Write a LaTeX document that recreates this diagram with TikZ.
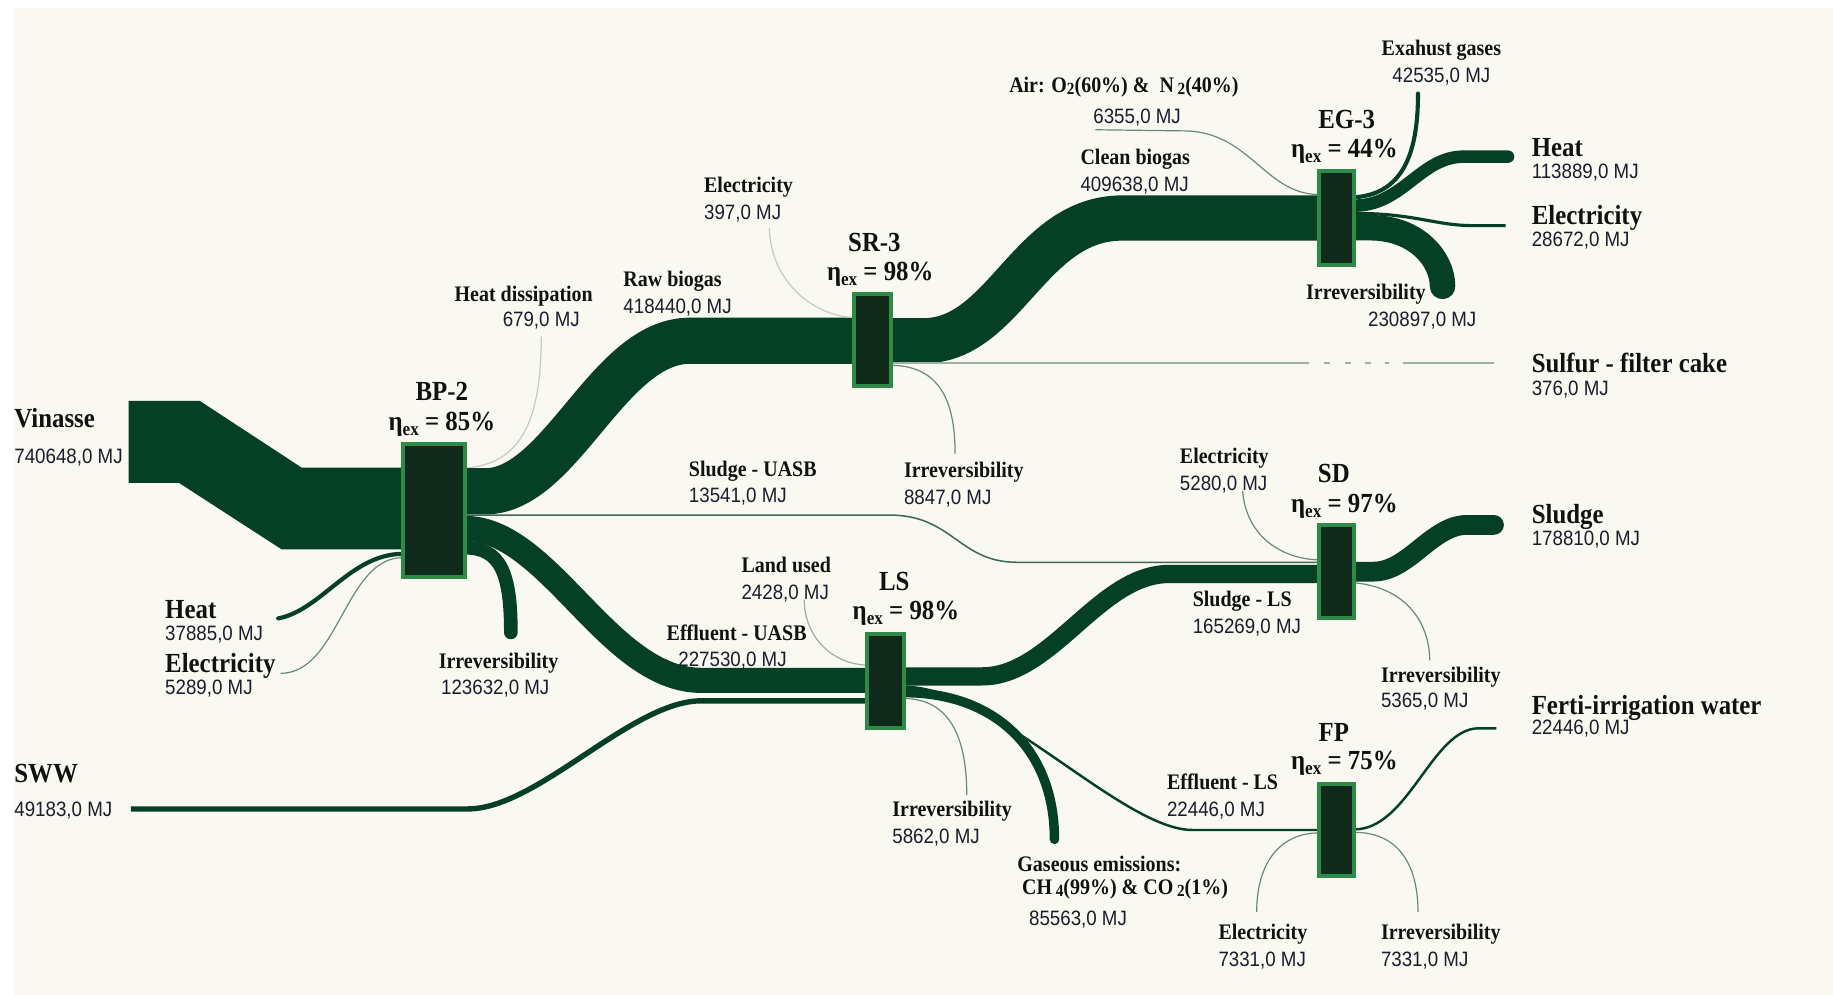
\documentclass[tikz,border=0pt]{standalone}
\usepackage{fontspec}
\setmainfont{Liberation Serif}
\newfontfamily\lblfont[FakeStretch=0.9]{Liberation Serif}
\newfontfamily\valfont[FakeStretch=0.9]{Liberation Sans}
\newcommand\bigb{\lblfont\bfseries\fontsize{13.8}{15}\selectfont}
\newcommand\smb{\lblfont\bfseries\fontsize{11.1}{13}\selectfont}
\newcommand\valf{\valfont\fontsize{10.4}{12}\selectfont}
\newcommand\etaex{η\raisebox{-0.4ex}{\fontsize{9.5}{10}\selectfont ex}}
\newcommand\lowdig[1]{\raisebox{-0.2ex}{\fontsize{8.5}{9}\selectfont #1}}
\definecolor{panel}{HTML}{F9F8F1}
\definecolor{flowc}{HTML}{064024}
\definecolor{boxfill}{HTML}{0F2A1A}
\definecolor{boxline}{HTML}{2E8B47}
\definecolor{thinA}{HTML}{6A8A75}
\definecolor{thinB}{HTML}{C6CAC0}
\definecolor{thinC}{HTML}{3F6A50}
\definecolor{thinD}{HTML}{9DB0A2}
\definecolor{txt}{HTML}{111111}
\definecolor{valc}{HTML}{1C1C2C}
\usetikzlibrary{calc}
\pgfdeclarelayer{bg}
\pgfdeclarelayer{flows}
\pgfsetlayers{bg,flows,main}
\def\pxu{0.5845}
\tikzset{
  proc/.style={draw=boxline, line width=2pt, fill=boxfill, inner sep=0, outer sep=0},
  flow/.style={draw=flowc, line width=#1*\pxu pt},
  rnd/.style={line cap=round},
  thinln/.style={draw=#1, line width=0.6pt},
  ttl/.style={font=\bigb, text=txt, anchor=base, inner sep=0},
  nmB/.style={font=\bigb, text=txt, anchor=base west, inner sep=0},
  nmS/.style={font=\smb, text=txt, anchor=base west, inner sep=0},
  nmSc/.style={font=\smb, text=txt, anchor=base, inner sep=0},
  vl/.style={font=\valf, text=valc, anchor=base west, inner sep=0},
  vlc/.style={font=\valf, text=valc, anchor=base, inner sep=0}
}
\begin{document}
\begin{tikzpicture}[x=0.5845pt,y=-0.5845pt]
\useasboundingbox (0,0) rectangle (1568,851);
\begin{pgfonlayer}{bg}
\fill[white] (0,0) rectangle (1568,851);
\fill[panel] (12,7) rectangle (1568,851);
\end{pgfonlayer}

% process boxes
\node[proc, minimum width=53*\pxu pt, minimum height=114*\pxu pt] (BP) at (371,436.5) {};
\node[proc, minimum width=32*\pxu pt, minimum height=79*\pxu pt] (SR) at (746.5,291) {};
\node[proc, minimum width=30*\pxu pt, minimum height=80*\pxu pt] (EG) at (1143.5,186.5) {};
\node[proc, minimum width=30*\pxu pt, minimum height=79*\pxu pt] (SD) at (1143.5,489) {};
\node[proc, minimum width=32*\pxu pt, minimum height=80*\pxu pt] (LS) at (757.5,582.5) {};
\node[proc, minimum width=30*\pxu pt, minimum height=79*\pxu pt] (FP) at (1143.5,710) {};

% free ends
\coordinate (vin) at (110,378);
\coordinate (hbp) at (238,529);
\coordinate (ebp) at (240,576);
\coordinate (hd) at (463,288);
\coordinate (irbp) at (437,541);
\coordinate (sww) at (112,692);
\coordinate (lu) at (688,513);
\coordinate (esr) at (658,195);
\coordinate (sulf) at (1278,310.5);
\coordinate (irsr) at (817,388);
\coordinate (air) at (937,111);
\coordinate (exh) at (1213,80);
\coordinate (heg) at (1290,134);
\coordinate (eeg) at (1288,193);
\coordinate (ireg) at (1234,245);
\coordinate (gas) at (902,718);
\coordinate (irls) at (827,680);
\coordinate (esd) at (1063,420);
\coordinate (sl) at (1278,449);
\coordinate (irsd) at (1223,565);
\coordinate (efp) at (1075,780);
\coordinate (fw) at (1280,623);
\coordinate (irfp) at (1213,780);

\begin{pgfonlayer}{flows}
% BP-2 inputs
\fill[flowc] (110,343) -- (171,343) -- (258,400) -- (BP.west |- 0,400) -- (BP.west |- 0,470) -- (241,470) -- (153,413) -- (110,413) -- cycle;
\draw[flow=3.6, rnd] (hbp) .. controls (275,522) and (300,473.8) .. (BP.west |- 0,473.8);
\draw[thinln=thinA] (ebp) .. controls (290,576) and (295,477) .. (BP.west |- 0,477);
% BP-2 outputs
\draw[thinln=thinB] (BP.east |- 0,400.5) .. controls (440,397) and (463,370) .. (hd);
\draw[flow=39.5] (BP.east |- 0,420.3) -- (415,420.3) .. controls (480,420.3) and (520,291.5) .. (590,291.5) -- (SR.west |- 0,291.5);
\draw[draw=thinC, line width=1.3*\pxu pt] (BP.east |- 0,440.6) -- (761,440.6) .. controls (815,440.6) and (820,481) .. (870,481) -- (SD.west |- 0,481);
\draw[flow=21.5] (BP.east |- 0,452) .. controls (470,452) and (520,582) .. (600,582) -- (LS.west |- 0,582);
\draw[flow=11.7, rnd] (BP.east |- 0,468.5) .. controls (428,468.5) and (437,490) .. (irbp);
% LS inputs
\draw[flow=4.6] (sww) -- (400,692) .. controls (460,692) and (540,599.5) .. (600,599.5) -- (LS.west |- 0,599.5);
\draw[thinln=thinD] (lu) .. controls (688,545) and (712,568) .. (LS.west |- 0,569);
% SR-3
\draw[thinln=thinB] (esr) .. controls (660,245) and (700,271) .. (SR.west |- 0,271.5);
\draw[flow=38.7] (SR.east |- 0,291.5) -- (790,291.5) .. controls (860,291.5) and (880,186.5) .. (960,186.5) -- (EG.west |- 0,186.5);
\draw[thinln=thinD, dash pattern=on 208.7pt off 7.6pt on 2.9pt off 7.6pt on 2.9pt off 7pt on 2.9pt off 7pt on 2.3pt off 7pt on 60pt] (SR.east |- 0,310.5) -- (sulf);
\draw[thinln=thinA] (SR.east |- 0,312.5) .. controls (805,313) and (817,345) .. (irsr);
% EG-3
\draw[thinln=thinA] (air) -- (1015,112) .. controls (1070,114) and (1082,166) .. (EG.west |- 0,166.5);
\draw[flow=3.5, rnd] (EG.east |- 0,168.8) .. controls (1198,166) and (1213,135) .. (exh);
\draw[flow=10.7, rnd] (EG.east |- 0,175.9) .. controls (1200,175.9) and (1215,134) .. (1252,134) -- (heg);
\draw[flow=2.7] (EG.east |- 0,182.5) .. controls (1210,182.5) and (1228,193) .. (1260,193) -- (eeg);
\draw[flow=21.8, rnd] (EG.east |- 0,194.8) -- (1172,194.8) .. controls (1212,194.8) and (1234,222) .. (ireg);
% LS outputs
\draw[flow=15.6] (LS.east |- 0,578.6) -- (840,578.6) .. controls (900,578.6) and (940,491) .. (1000,491) -- (SD.west |- 0,491);
\draw[flow=2.1] (LS.east |- 0,587.5) .. controls (850,587.5) and (960,710) .. (1020,710) -- (FP.west |- 0,710);
\draw[flow=8.1, rnd] (LS.east |- 0,592.5) .. controls (850,592.5) and (902,640) .. (gas);
\draw[thinln=thinA] (LS.east |- 0,597.5) .. controls (812,598) and (827,630) .. (irls);
% SD
\draw[thinln=thinA] (esd) .. controls (1066,458) and (1095,478) .. (SD.west |- 0,479);
\draw[flow=16.9, rnd] (SD.east |- 0,489) -- (1175,489) .. controls (1205,489) and (1225,449) .. (1255,449) -- (sl);
\draw[thinln=thinA] (SD.east |- 0,498.5) .. controls (1205,503) and (1223,535) .. (irsd);
% FP
\draw[thinln=thinA] (efp) .. controls (1075,738) and (1095,712.5) .. (FP.west |- 0,712.5);
\draw[flow=2.1] (FP.east |- 0,709.5) .. controls (1205,709.5) and (1225,623) .. (1265,623) -- (fw);
\draw[thinln=thinA] (FP.east |- 0,712) .. controls (1200,712) and (1213,745) .. (irfp);
\end{pgfonlayer}

% titles
\node[ttl] (tBP) at (378,343) {BP-2};
\node[ttl] (eBP) at (378,368) {\etaex{} = 85\%};
\node[ttl] (tSR) at (748,215) {SR-3};
\node[ttl] (eSR) at (753,240) {\etaex{} = 98\%};
\node[ttl] (tEG) at (1152,110) {EG-3};
\node[ttl] (eEG) at (1150,135) {\etaex{} = 44\%};
\node[ttl] (tSD) at (1141,413) {SD};
\node[ttl] (eSD) at (1150,438) {\etaex{} = 97\%};
\node[ttl] (tLS) at (765,505) {LS};
\node[ttl] (eLS) at (775,530) {\etaex{} = 98\%};
\node[ttl] (tFP) at (1141,634) {FP};
\node[ttl] (eFP) at (1150,658) {\etaex{} = 75\%};

% big labels
\node[nmB] (nVin) at (12,366) {Vinasse};
\node[vl] (vVin) at (12,396.5) {740648,0 MJ};
\node[nmB] (nSWW) at (12,669) {SWW};
\node[vl] (vSWW) at (12,698.5) {49183,0 MJ};
\node[nmB] (nHbp) at (141,529) {Heat};
\node[vl] (vHbp) at (141,547.5) {37885,0 MJ};
\node[nmB] (nEbp) at (141,575) {Electricity};
\node[vl] (vEbp) at (141,594.5) {5289,0 MJ};
\node[nmB] (nHeg) at (1310,134) {Heat};
\node[vl] (vHeg) at (1310,152.5) {113889,0 MJ};
\node[nmB] (nEeg) at (1310,192) {Electricity};
\node[vl] (vEeg) at (1310,210.5) {28672,0 MJ};
\node[nmB] (nSul) at (1310,319) {Sulfur - filter cake};
\node[vl] (vSul) at (1310,338.5) {376,0 MJ};
\node[nmB] (nSl) at (1310,448) {Sludge};
\node[vl] (vSl) at (1310,466.5) {178810,0 MJ};
\node[nmB] (nFw) at (1310,611) {Ferti-irrigation water};
\node[vl] (vFw) at (1310,628.5) {22446,0 MJ};

% small labels
\node[nmSc] (nHd) at (448,257.5) {Heat dissipation};
\node[vlc] (vHd) at (463,279.5) {679,0 MJ};
\node[nmS] (nRb) at (533,245.5) {Raw biogas};
\node[vl] (vRb) at (533,268.5) {418440,0 MJ};
\node[nmS] (nEsr) at (602,164.5) {Electricity};
\node[vl] (vEsr) at (602,187.5) {397,0 MJ};
\node[nmS] (nSu) at (589,407.5) {Sludge - UASB};
\node[vl] (vSu) at (589,429.5) {13541,0 MJ};
\node[nmS] (nIbp) at (375,571.5) {Irreversibility};
\node[vl] (vIbp) at (377,594.5) {123632,0 MJ};
\node[nmS] (nIsr) at (773,408.5) {Irreversibility};
\node[vl] (vIsr) at (773,431.5) {8847,0 MJ};
\node[nmS] (nCb) at (924,140.5) {Clean biogas};
\node[vl] (vCb) at (924,163.5) {409638,0 MJ};
\node[nmS] (nAir) at (863,79.5) {Air: O\lowdig{2}(60\%) \&\ \ N\,\lowdig{2}(40\%)};
\node[vl] (vAir) at (935,105.5) {6355,0 MJ};
\node[nmSc] (nEx) at (1233,47.5) {Exahust gases};
\node[vlc] (vEx) at (1233,70.5) {42535,0 MJ};
\node[nmS] (nIeg) at (1117,256.5) {Irreversibility};
\node[vl] (vIeg) at (1170,279.5) {230897,0 MJ};
\node[nmS] (nEsd) at (1009,396.5) {Electricity};
\node[vl] (vEsd) at (1009,419.5) {5280,0 MJ};
\node[nmS] (nSls) at (1020,518.5) {Sludge - LS};
\node[vl] (vSls) at (1020,541.5) {165269,0 MJ};
\node[nmS] (nIsd) at (1181,583.5) {Irreversibility};
\node[vl] (vIsd) at (1181,605.5) {5365,0 MJ};
\node[nmS] (nLu) at (634,489.5) {Land used};
\node[vl] (vLu) at (634,512.5) {2428,0 MJ};
\node[nmS] (nEu) at (570,547.5) {Effluent - UASB};
\node[vl] (vEu) at (580,570.5) {227530,0 MJ};
\node[nmS] (nIls) at (763,698.5) {Irreversibility};
\node[vl] (vIls) at (763,721.5) {5862,0 MJ};
\node[nmS] (nGa) at (870,745.5) {Gaseous emissions:};
\node[nmS] (nGb) at (874,765.5) {CH\,\lowdig{4}(99\%) \& CO\,\lowdig{2}(1\%)};
\node[vl] (vGa) at (880,791.5) {85563,0 MJ};
\node[nmS] (nEls) at (998,675.5) {Effluent - LS};
\node[vl] (vEls) at (998,698.5) {22446,0 MJ};
\node[nmS] (nEfp) at (1042,803.5) {Electricity};
\node[vl] (vEfp) at (1042,826.5) {7331,0 MJ};
\node[nmS] (nIfp) at (1181,803.5) {Irreversibility};
\node[vl] (vIfp) at (1181,826.5) {7331,0 MJ};
\end{tikzpicture}
\end{document}
